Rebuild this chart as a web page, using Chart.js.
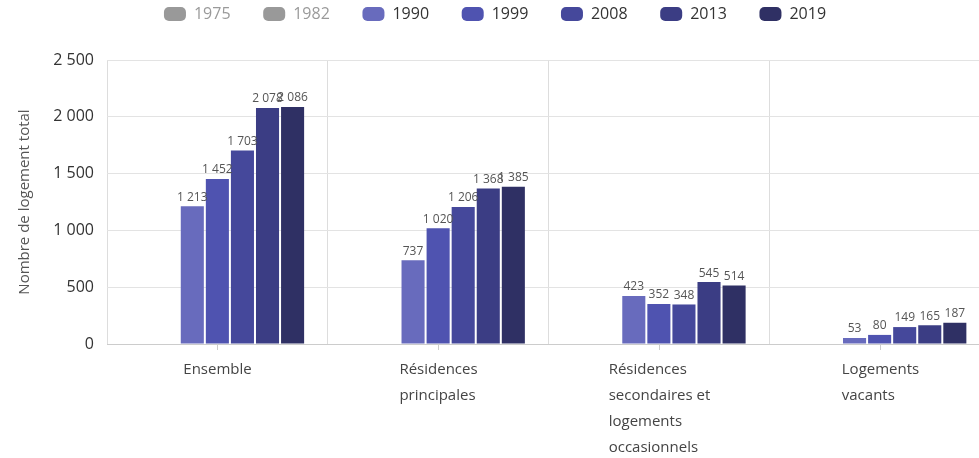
<!DOCTYPE html>
<html>
<head>
<meta charset="utf-8">
<script src="https://cdn.jsdelivr.net/npm/chart.js@4/dist/chart.umd.min.js"></script>
<style>
  html, body { margin: 0; padding: 0; background: #fff; overflow: hidden; }
  #chart { display: block; }
</style>
</head>
<body>
<canvas id="chart" width="995" height="458"></canvas>
<script>
// categories (already split in lines like the original)
const categories = [
    ["Ensemble"],
    ["Résidences", "principales"],
    ["Résidences", "secondaires et", "logements", "occasionnels"],
    ["Logements", "vacants"]
];
const years = ["1975", "1982", "1990", "1999", "2008", "2013", "2019"];

const v1975 = [null, null, null, null];
const v1982 = [null, null, null, null];
const v1990 = [1213, 737, 423, 53];
const v1999 = [1452, 1020, 352, 80];
const v2008 = [1703, 1206, 348, 149];
const v2013 = [2078, 1368, 545, 165];
const v2019 = [2086, 1385, 514, 187];

const yTicks = [0, 500, 1000, 1500, 2000, 2500];

const couleurs = ["#999999", "#999999", "#686bbd", "#4f53b0", "#45489b", "#3b3d84", "#2f3064"];
const series = [v1975, v1982, v1990, v1999, v2008, v2013, v2019];

function fmt(v){
    return String(v).replace(/\B(?=(\d{3})+(?!\d))/g, " ");
}

Chart.defaults.font.family = "'Open Sans', sans-serif";

// legend is drawn a bit higher than chart.js would like
const legendHeight = {
    id: "legendHeight",
    beforeInit(chart){
        const fit = chart.legend.fit;
        chart.legend.fit = function(){
            fit.bind(chart.legend)();
            this.height = 60;
        };
    }
};

// values above the bars
const valeurs = {
    id: "valeurs",
    afterDatasetsDraw(chart){
        const ctx = chart.ctx;
        ctx.save();
        ctx.font = "12px 'Open Sans', sans-serif";
        ctx.fillStyle = "#555";
        ctx.textAlign = "center";
        ctx.textBaseline = "bottom";
        chart.data.datasets.forEach((ds, i) => {
            const meta = chart.getDatasetMeta(i);
            if(meta.hidden) return;
            meta.data.forEach((bar, j) => {
                const v = ds.data[j];
                if(v == null) return;
                ctx.fillText(fmt(v), bar.x, bar.y - 3);
            });
        });
        ctx.restore();
    }
};

// category labels : lines left aligned, block centred on the tick
const etiquettes = {
    id: "etiquettes",
    afterDraw(chart){
        const ctx = chart.ctx;
        const x = chart.scales.x;
        const bas = chart.chartArea.bottom;
        ctx.save();
        ctx.strokeStyle = "#cccccc";
        ctx.lineWidth = 1;
        ctx.font = "15px 'Open Sans', sans-serif";
        ctx.fillStyle = "#444";
        ctx.textAlign = "left";
        ctx.textBaseline = "middle";
        categories.forEach((lignes, i) => {
            const px = Math.round(x.getPixelForValue(i)) + 0.5;
            ctx.beginPath();
            ctx.moveTo(px, bas);
            ctx.lineTo(px, bas + 6);
            ctx.stroke();
            let maxW = 0;
            lignes.forEach(l => { maxW = Math.max(maxW, ctx.measureText(l).width); });
            const gauche = px - maxW / 2;
            lignes.forEach((l, k) => {
                ctx.fillText(l, gauche, bas + 26 + k * 26);
            });
        });
        ctx.restore();
    }
};

const datasets = years.map((an, i) => ({
    label: an,
    data: series[i],
    backgroundColor: couleurs[i],
    borderWidth: 0,
    categoryPercentage: 0.795,
    barPercentage: 0.92,
}));

let canv = document.getElementById("chart");
let latestChart = new Chart(canv, {
    type: "bar",
    data: {
        labels: categories.map(c => c.join(" ")),
        datasets: datasets,
    },
    plugins: [legendHeight, valeurs, etiquettes],
    options: {
        responsive: false,
        animation: false,
        layout: { padding: { left: 0, right: 5, top: 0, bottom: 0 } },
        plugins: {
            tooltip: { enabled: false },
            legend: {
                position: "top",
                onClick: null,
                labels: {
                    boxWidth: 22,
                    boxHeight: 14,
                    useBorderRadius: true,
                    borderRadius: 5,
                    padding: 6,
                    color: "#333",
                    font: { size: 16 },
                    generateLabels(chart){
                        const items = Chart.defaults.plugins.legend.labels.generateLabels(chart);
                        items.forEach((it, i) => {
                            it.lineWidth = 0;
                            it.strokeStyle = "rgba(0,0,0,0)";
                            if(i < 2){
                                it.fontColor = "#9a9a9a";
                                it.fillStyle = "#999999";
                            }
                            if(i < items.length - 1){
                                it.text = it.text + "\u2003\u2002\u2009";
                            }
                        });
                        return items;
                    }
                }
            }
        },
        scales: {
            x: {
                grid: { offset: true, color: "#dddddd", drawTicks: false },
                border: { display: true, color: "#cccccc" },
                ticks: { display: false },
                afterFit(scale){ scale.height = 114; }
            },
            y: {
                min: 0,
                max: 2500,
                afterBuildTicks(scale){ scale.ticks = yTicks.map(v => ({ value: v })); },
                grid: { color: "#e3e3e3", drawTicks: false },
                border: { display: false },
                ticks: {
                    padding: 13,
                    color: "#333",
                    font: { size: 16 },
                    callback: v => fmt(v)
                },
                title: {
                    display: true,
                    text: "Nombre de logement total",
                    color: "#555",
                    font: { size: 15 },
                    padding: { top: 16, bottom: 0 }
                },
                afterFit(scale){ scale.width = 107; }
            }
        }
    }
});
</script>
</body>
</html>
